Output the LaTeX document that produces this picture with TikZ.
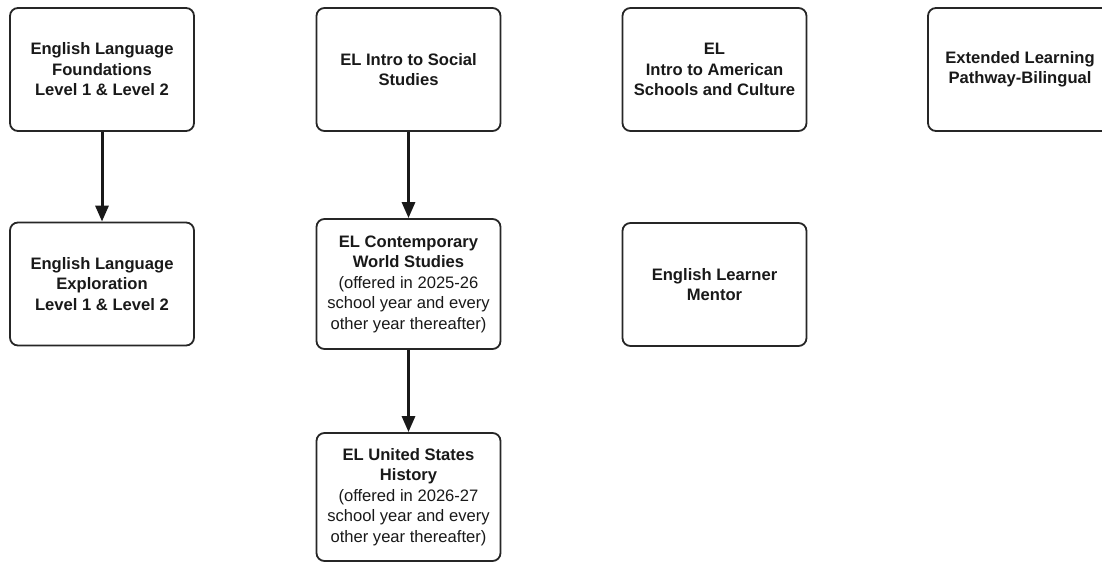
\documentclass[tikz,border=0pt]{standalone}
\usepackage{fontspec}
\setmainfont{Liberation Sans}
\usetikzlibrary{arrows.meta}

\tikzset{
  course/.style={draw=black!85, line width=1.8pt, rounded corners=8pt,
    minimum width=184pt, minimum height=123pt, inner sep=0pt, align=center,
    text=black!90, font=\fontsize{16.6}{20.5}\selectfont\bfseries},
  next/.style={-{Triangle[length=16pt,width=13pt]}, line width=3pt, black!90},
}

\begin{document}
\begin{tikzpicture}[x=1pt,y=1pt]
\useasboundingbox (0,0) rectangle (1102,562);
% first column
\node[course] (fnd) at (102,492.5) {English Language\\Foundations\\Level 1 \& Level 2};
\node[course] (exp) at (102,278) {English Language\\Exploration\\Level 1 \& Level 2};
% second column
\node[course] (soc) at (408.5,492.5) {EL Intro to Social\\Studies};
\node[course, minimum height=130pt] (world) at (408.5,278) {EL Contemporary\\World Studies\\
  \textmd{(offered in 2025-26}\\\textmd{school year and every}\\\textmd{other year thereafter)}};
\node[course, minimum height=128pt] (ush) at (408.5,65) {EL United States\\History\\
  \textmd{(offered in 2026-27}\\\textmd{school year and every}\\\textmd{other year thereafter)}};
% third column
\node[course] (amer) at (714.5,492.5) {EL\\Intro to American\\Schools and Culture};
\node[course] (mentor) at (714.5,277.5) {English Learner\\Mentor};
% fourth column
\node[course] (bil) at (1020,492.5) {Extended Learning\\Pathway-Bilingual};
\path[next]
(fnd) edge (exp)
(soc) edge (world)
(world) edge (ush)
;
\end{tikzpicture}
\end{document}
